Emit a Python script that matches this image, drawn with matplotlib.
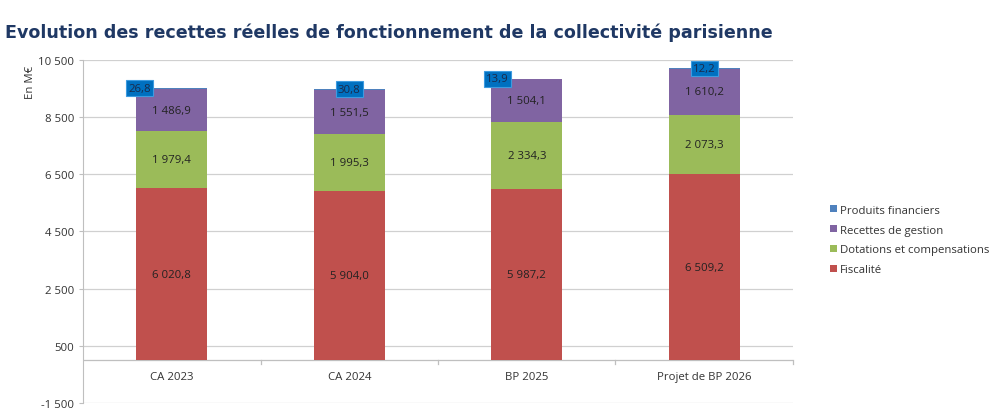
import numpy as np
import matplotlib.pyplot as plt

# Données (M€)
categories = ["CA 2023", "CA 2024", "BP 2025", "Projet de BP 2026"]
fiscalite = [6020.8, 5904.0, 5987.2, 6509.2]
dotations = [1979.4, 1995.3, 2334.3, 2073.3]
gestion = [1486.9, 1551.5, 1504.1, 1610.2]
financiers = [26.8, 30.8, 13.9, 12.2]
yticks = [-1500, 500, 2500, 4500, 6500, 8500, 10500]

colors = {"Fiscalité": "#C0504D",
          "Dotations et compensations": "#9BBB59",
          "Recettes de gestion": "#8064A2",
          "Produits financiers": "#4F81BD"}

plt.rcParams['font.family'] = ['Open Sans', 'DejaVu Sans']
fs = 8.2


def fr(v):
    s = f"{v:,.1f}".replace(",", " ").replace(".", ",")
    return s


fig = plt.figure(figsize=(10.03, 4.14), dpi=100)
ax = fig.add_axes([0.0828, 0.0242, 0.7078, 0.8285])

x = np.arange(len(categories))
w = 0.4
bottom = np.zeros(len(categories))
series = [("Fiscalité", fiscalite), ("Dotations et compensations", dotations),
          ("Recettes de gestion", gestion)]
handles = {}
for name, vals in series:
    vals = np.array(vals)
    b = ax.bar(x, vals, w, bottom=bottom, color=colors[name], zorder=2)
    handles[name] = b
    for xi, bi, v in zip(x, bottom, vals):
        ax.text(xi, bi + v / 2, fr(v), ha="center", va="center",
                fontsize=fs, color="#222222", zorder=3)
    bottom = bottom + vals

fin = np.array(financiers)
b = ax.bar(x, fin, w, bottom=bottom, color=colors["Produits financiers"], zorder=2)
handles["Produits financiers"] = b

# étiquettes des produits financiers (décalées à gauche pour certaines)
shifts = [-32, 0, -29, 0]
for xi, top, v, dx in zip(x, bottom + fin, fin, shifts):
    ax.annotate(fr(v), (xi, top), xytext=(dx, 0), textcoords="offset pixels",
                ha="center", va="center", fontsize=fs, color="#1a2a4a", zorder=4,
                bbox=dict(boxstyle="square,pad=0.2", fc="#0070C0",
                          ec="#3D9BE0", lw=0.8))

ax.set_xlim(-0.5, len(categories) - 0.5)
ax.set_ylim(-1500, 10500)
ax.set_yticks(yticks)
ax.set_yticklabels([f"{t:,}".replace(",", " ") for t in yticks], fontsize=fs,
                   color="#333333")
ax.tick_params(axis="y", length=3, color="#BFBFBF")
ax.grid(axis="y", color="#D0D0D0", lw=0.9, zorder=0)
ax.set_xticks([])
for sp in ["top", "right", "bottom"]:
    ax.spines[sp].set_visible(False)
ax.spines["left"].set_color("#BFBFBF")

# axe horizontal à 0 avec graduations entre catégories
ax.axhline(0, color="#BFBFBF", lw=0.9, zorder=1)
for xb in np.arange(0.5, len(categories) + 0.5, 1.0):
    ax.plot([xb, xb], [0, -120], color="#BFBFBF", lw=0.9, clip_on=False)
for xi, c in zip(x, categories):
    ax.text(xi, -580, c, ha="center", va="center", fontsize=fs, color="#333333")

fig.text(0.030, 0.80, "En M€", rotation=90, ha="center", va="center",
         fontsize=fs, color="#333333")

fig.text(0.005, 0.92, "Evolution des recettes réelles de fonctionnement de la collectivité parisienne",
         fontsize=12.6, fontweight="bold", color="#1F3864", ha="left", va="center",
         family="DejaVu Sans")

order = ["Produits financiers", "Recettes de gestion",
         "Dotations et compensations", "Fiscalité"]
leg = fig.legend([handles[k] for k in order], order, loc="center left",
                 bbox_to_anchor=(0.817, 0.418), frameon=False, fontsize=fs,
                 handlelength=0.6, handleheight=0.6, handletextpad=0.3,
                 labelspacing=0.78)
for t in leg.get_texts():
    t.set_color("#333333")

fig.savefig("out.png", dpi=100)
